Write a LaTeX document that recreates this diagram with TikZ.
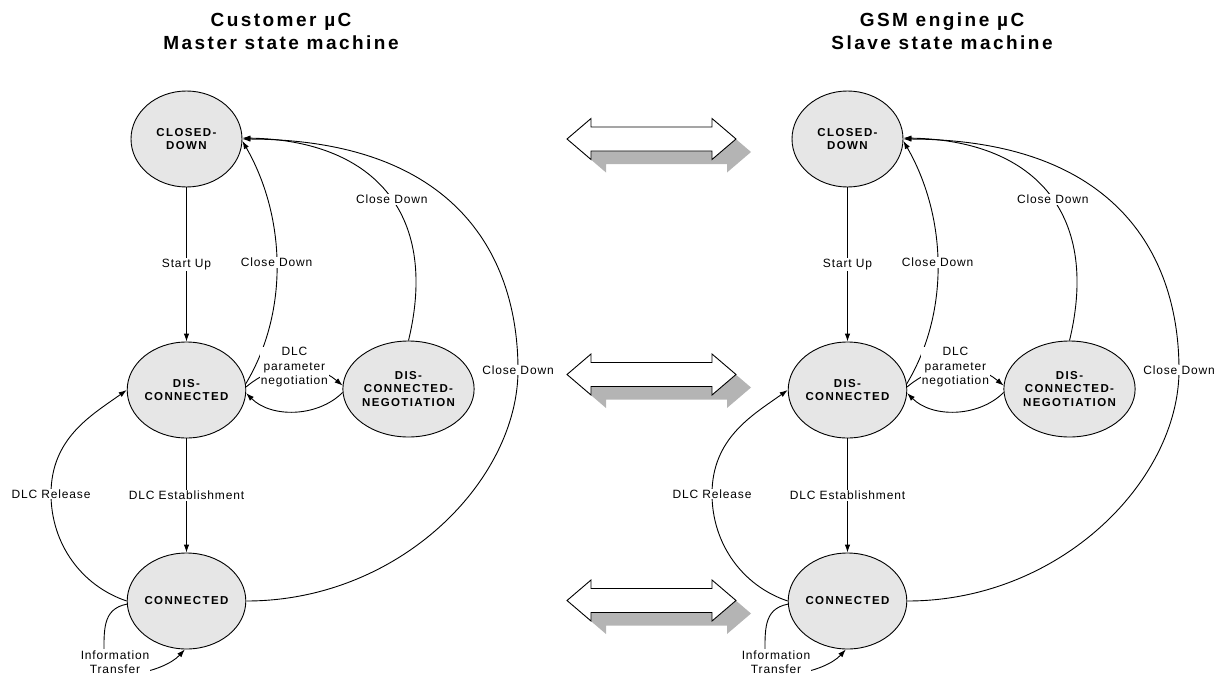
\documentclass[tikz,border=0pt]{standalone}
\usepackage{fontspec}
\setmainfont{Liberation Sans}
\newfontfamily\labelfont[LetterSpace=7]{Liberation Sans}
\newfontfamily\statefont[LetterSpace=12]{Liberation Sans}
\newfontfamily\titlefont[LetterSpace=13]{Liberation Sans}
\usetikzlibrary{shapes.geometric,arrows.meta}
\definecolor{stateGray}{RGB}{230,230,230}
\definecolor{shadowGray}{RGB}{180,180,180}
\newcommand{\linkarrow}{(-84.5,0) -- (-60.5,-20.5) -- (-60.5,-12) -- (60.5,-12) -- (60.5,-20.5) -- (84.5,0) -- (60.5,20.5) -- (60.5,12) -- (-60.5,12) -- (-60.5,20.5) -- cycle}
\tikzset{
	state/.style={ellipse, draw, fill=stateGray, line width=0.9pt, minimum width=111pt, minimum height=96pt, inner sep=0pt, align=center, font=\statefont\bfseries\fontsize{11.5}{13.5}\selectfont},
	trans/.style={line width=0.9pt, -{Latex[length=8pt,width=5.5pt]}},
	lbl/.style={fill=white, inner sep=1pt, align=center, font=\labelfont\fontsize{12}{14.5}\selectfont},
	title/.style={align=center, font=\titlefont\bfseries\fontsize{19}{23}\selectfont}
}

\begin{document}
\begin{tikzpicture}[x=1pt, y=-1pt]
	\useasboundingbox (0,0) rectangle (1220,677);
	\node[title] (titleMaster) at (281,31.5) {Customer µC\\Master state machine};
	\node[title] (titleSlave) at (942,31.5) {GSM engine µC\\Slave state machine};
	
	% link arrows between the two machines
	\foreach \y in {139,374.5,600.5} {
		\fill[shadowGray, shift={(666.5,\y+13)}] \linkarrow;
		\draw[fill=white, line width=0.9pt, shift={(651.5,\y)}] \linkarrow;
	}
	
	\foreach \m/\dx in {M/0, S/661} {
		\begin{scope}[xshift=\dx pt]
			\node[state] (closed\m) at (186.5,139) {CLOSED-\\DOWN};
			\node[state] (disc\m) at (186.5,390) {DIS-\\CONNECTED};
			\node[state] (nego\m) at (408.5,389) {DIS-\\CONNECTED-\\NEGOTIATION};
			\node[state] (conn\m) at (186.5,601) {CONNECTED};
			
			\draw[trans] (closed\m) -- node[lbl] {Start Up} (disc\m);
			\draw[trans] (disc\m) -- node[lbl] {DLC Establishment} (conn\m);
			\draw[trans] (disc\m.6) .. controls (290,310) and (285,215) .. node[lbl, pos=0.5] {Close Down} (closed\m.-2);
			\draw[trans] (nego\m.90) .. controls (440,210) and (370,140) .. node[lbl, pos=0.46] {Close Down} (closed\m.1);
			\draw[trans] (conn\m.east) .. controls (400,601) and (518,480) .. (518,370) node[lbl] {Close Down} .. controls (518,260) and (460,140) .. (closed\m.east);
			\draw[trans] (disc\m.3) .. controls +(30,-25) and +(-30,-25) .. node[lbl] {DLC\\parameter\\negotiation} (nego\m.177);
			\draw[trans] (nego\m.183) .. controls +(-25,25) and +(25,25) .. (disc\m.357);
			\draw[trans] (conn\m.west) .. controls +(-45,-15) and +(0,50) .. (51,494) node[lbl] {DLC Release} .. controls +(0,-56) and +(-35,25) .. (disc\m.west);
			\draw[trans] (conn\m.183) .. controls +(-25,5) and +(0,-30) .. (104,660) .. controls +(0,25) and +(-21,23) .. (conn\m.268);
			\node[lbl] (infoTrans\m) at (115,662) {Information\\Transfer};
		\end{scope}
	}
\end{tikzpicture}
\end{document}
